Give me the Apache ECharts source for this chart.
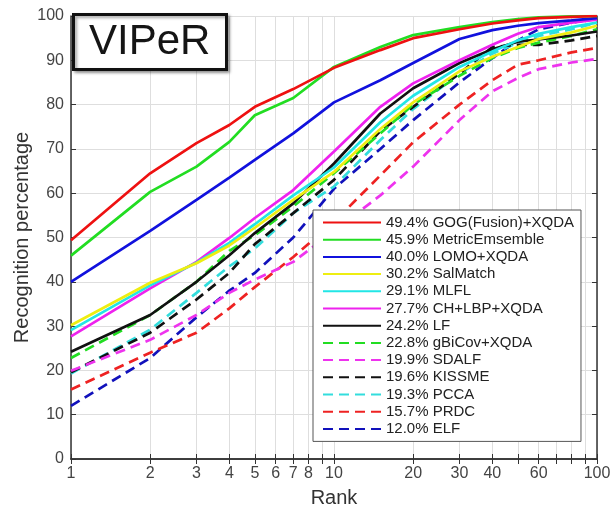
<!DOCTYPE html>
<html>
<head>
<meta charset="utf-8">
<script src="https://cdn.jsdelivr.net/npm/echarts@6/dist/echarts.min.js"></script>
<style>
  html, body { margin: 0; padding: 0; background: #fff; }
  #chart { width: 616px; height: 508px; }
</style>
</head>
<body>
<div id="chart"></div>
<script>
// CMC curves on VIPeR, rank on a log axis
var ranks = [1, 2, 3, 4, 5, 7, 10, 15, 20, 30, 40, 50, 60, 80, 100];

var gogFusion   = [49.4, 64.5, 71.3, 75.4, 79.5, 83.5, 88.3, 92.3, 95.0, 97.0, 98.3, 99.0, 99.5, 99.8, 100];
var metricEns   = [45.9, 60.3, 66.0, 71.6, 77.6, 81.5, 88.5, 93.0, 95.7, 97.5, 98.6, 99.3, 99.7, 99.9, 100];
var lomo        = [40.0, 51.5, 58.5, 63.5, 67.5, 73.5, 80.5, 85.5, 89.4, 94.8, 96.8, 97.8, 98.4, 99.0, 99.5];
var salMatch    = [30.2, 39.8, 44.2, 48.2, 52.2, 58.5, 64.8, 74.5, 80.5, 87.5, 90.8, 93.0, 94.8, 96.3, 97.8];
var mlfl        = [29.1, 39.2, 44.3, 48.8, 53.0, 59.5, 65.8, 76.0, 82.0, 88.5, 92.0, 94.5, 96.0, 97.5, 98.5];
var chLbp       = [27.7, 38.5, 44.5, 49.9, 54.4, 60.7, 69.4, 79.5, 84.8, 90.0, 93.5, 96.0, 97.5, 98.5, 99.2];
var lf          = [24.2, 32.5, 40.0, 46.0, 51.0, 57.7, 66.7, 78.0, 83.7, 89.4, 92.5, 94.2, 94.7, 95.6, 96.5];
var gBiCov      = [22.8, 32.5, 40.0, 47.0, 50.5, 57.0, 64.5, 73.5, 80.0, 86.5, 90.5, 92.8, 94.0, 95.5, 97.0];
var sdalf       = [19.9, 26.9, 32.5, 37.5, 40.5, 44.5, 51.5, 59.5, 66.0, 76.5, 83.0, 86.0, 88.0, 89.5, 90.3];
var kissme      = [19.6, 28.5, 36.0, 42.0, 48.5, 55.5, 63.0, 74.0, 79.5, 87.0, 93.0, 93.5, 93.5, 94.5, 95.5];
var pcca        = [19.3, 29.2, 37.5, 43.5, 47.5, 55.5, 61.5, 72.0, 79.0, 87.0, 91.5, 94.0, 95.5, 97.0, 98.5];
var prdc        = [15.7, 24.0, 28.5, 34.0, 38.8, 45.6, 53.5, 64.0, 71.5, 80.0, 85.5, 89.0, 90.0, 91.8, 92.8];
var elf         = [12.0, 22.8, 32.0, 38.0, 42.0, 50.0, 61.0, 70.0, 76.5, 85.0, 90.5, 94.5, 97.0, 98.5, 99.5];

var names = [
  '49.4% GOG(Fusion)+XQDA', '45.9% MetricEmsemble', '40.0% LOMO+XQDA', '30.2% SalMatch',
  '29.1% MLFL', '27.7% CH+LBP+XQDA', '24.2% LF', '22.8% gBiCov+XQDA', '19.9% SDALF',
  '19.6% KISSME', '19.3% PCCA', '15.7% PRDC', '12.0% ELF'
];
var values = [gogFusion, metricEns, lomo, salMatch, mlfl, chLbp, lf, gBiCov, sdalf, kissme, pcca, prdc, elf];
var colors = ['#ee1111', '#22dd22', '#1111dd', '#eeee11', '#22e6e6', '#ee22ee', '#111111',
              '#22dd22', '#ee33ee', '#111111', '#33dddd', '#ee2222', '#1111bb'];
var dashed = [false, false, false, false, false, false, false, true, true, true, true, true, true];

var tickRanks = [1, 2, 3, 4, 5, 6, 7, 8, 9, 10, 20, 30, 40, 50, 60, 70, 80, 90, 100];
var labelRanks = [1, 2, 3, 4, 5, 6, 7, 8, 10, 20, 30, 40, 60, 100];

var font = 'Liberation Sans, Arial, Helvetica, sans-serif';

var chart = echarts.init(document.getElementById('chart'));

var series = names.map(function (n, i) {
  return {
    name: n,
    type: 'line',
    symbol: 'none',
    smooth: false,
    data: ranks.map(function (r, j) { return [r, values[i][j]]; }),
    lineStyle: { color: colors[i], width: 2.7, type: dashed[i] ? [10, 6] : 'solid' },
    itemStyle: { color: colors[i] },
    z: 20 - i
  };
});

var option = {
  animation: false,
  backgroundColor: '#fff',
  textStyle: { fontFamily: font },
  title: {
    text: 'VIPeR',
    left: 73,
    top: 14,
    padding: [5, 16],
    backgroundColor: '#fff',
    borderColor: '#111',
    borderWidth: 3,
    shadowColor: 'rgba(0,0,0,0.35)',
    shadowBlur: 3,
    shadowOffsetX: 2,
    shadowOffsetY: 2,
    textStyle: { fontSize: 42, fontWeight: 'normal', color: '#151515', fontFamily: font, lineHeight: 46 }
  },
  legend: {
    orient: 'vertical',
    left: 313,
    top: 210,
    backgroundColor: '#fff',
    borderColor: '#555',
    borderWidth: 1,
    padding: [5, 7, 5, 9],
    itemWidth: 58,
    itemHeight: 14,
    itemGap: 2.2,
    data: names,
    itemStyle: { opacity: 0, borderWidth: 0 },
    textStyle: { fontSize: 15, color: '#222', fontFamily: font, lineHeight: 15 },
    z: 30
  },
  grid: { left: 71, right: 19, top: 16, bottom: 49, containLabel: false, outerBoundsMode: 'none' },
  xAxis: [{
    type: 'log',
    logBase: 10,
    min: 1,
    max: 100,
    position: 'bottom',
    name: 'Rank',
    nameLocation: 'middle',
    nameGap: 29,
    nameMoveOverlap: false,
    nameTextStyle: { fontSize: 20, color: '#333', fontFamily: font },
    axisLine: { lineStyle: { color: '#333', width: 1.5 } },
    axisTick: { inside: true, length: 5, customValues: tickRanks, lineStyle: { color: '#333' } },
    minorTick: { show: false },
    axisLabel: {
      customValues: labelRanks, fontSize: 16, color: '#444', margin: 7,
      formatter: function (v) { return String(Math.round(v)); }
    },
    splitLine: { show: true, lineStyle: { color: '#dedede', width: 1 } }
  }, {
    type: 'log',
    logBase: 10,
    min: 1,
    max: 100,
    position: 'top',
    axisLine: { show: true, lineStyle: { color: '#333', width: 1.5 } },
    axisTick: { inside: true, length: 5, customValues: tickRanks, lineStyle: { color: '#333' } },
    axisLabel: { show: false },
    splitLine: { show: false }
  }],
  yAxis: [{
    type: 'value',
    min: 0,
    max: 100,
    interval: 10,
    name: 'Recognition percentage',
    nameLocation: 'middle',
    nameGap: 39,
    nameMoveOverlap: false,
    nameTextStyle: { fontSize: 20, color: '#333', fontFamily: font },
    axisLine: { show: true, lineStyle: { color: '#333', width: 1.5 } },
    axisTick: { show: true, inside: true, length: 5, lineStyle: { color: '#333' } },
    axisLabel: { fontSize: 16, color: '#444', margin: 7 },
    splitLine: { show: true, lineStyle: { color: '#dedede', width: 1 } }
  }, {
    type: 'value',
    min: 0,
    max: 100,
    interval: 10,
    position: 'right',
    axisLine: { show: true, lineStyle: { color: '#333', width: 1.5 } },
    axisTick: { show: true, inside: true, length: 5, lineStyle: { color: '#333' } },
    axisLabel: { show: false },
    splitLine: { show: false }
  }],
  series: series
};

chart.setOption(option);
</script>
</body>
</html>
